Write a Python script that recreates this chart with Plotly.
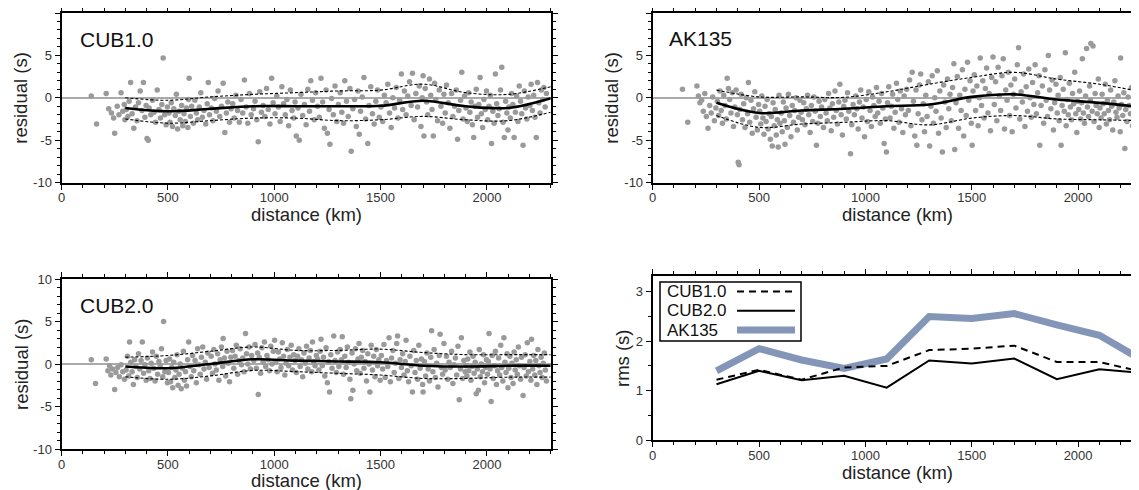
import plotly.graph_objects as go

# ---------------- data ----------------
bins = [300, 500, 700, 900, 1100, 1300, 1500, 1700, 1900, 2100, 2300]

cub1_mean = [-1.2, -1.6, -1.3, -1.0, -1.0, -1.0, -0.95, -0.35, -1.0, -1.2, -0.05]
cub1_upper = [0.0, -0.3, 0.1, 0.4, 0.6, 0.8, 0.9, 1.6, 0.6, 0.4, 1.3]
cub1_lower = [-2.5, -3.0, -2.7, -2.4, -2.4, -2.7, -2.6, -2.2, -2.6, -2.7, -1.7]

ak_mean = [-0.6, -1.8, -1.5, -1.3, -1.0, -0.8, 0.1, 0.4, -0.2, -0.6, -1.1]
ak_upper = [0.9, 0.1, 0.1, 0.05, 0.7, 1.6, 2.4, 3.0, 2.2, 1.6, 0.7]
ak_lower = [-2.1, -3.5, -3.1, -2.9, -2.7, -3.2, -2.4, -2.1, -2.5, -2.6, -2.7]

cub2_mean = [-0.3, -0.5, 0.0, 0.55, 0.4, 0.3, 0.2, -0.2, -0.3, -0.2, -0.2]
cub2_upper = [0.8, 1.0, 1.5, 2.0, 1.6, 1.6, 1.75, 1.35, 1.1, 1.1, 1.1]
cub2_lower = [-1.5, -1.8, -1.4, -0.75, -0.9, -1.1, -1.3, -1.7, -1.7, -1.55, -1.55]

rms_cub1 = [1.22, 1.42, 1.22, 1.47, 1.50, 1.82, 1.85, 1.91, 1.58, 1.58, 1.38]
rms_cub2 = [1.13, 1.40, 1.21, 1.30, 1.06, 1.61, 1.55, 1.65, 1.23, 1.43, 1.36]
rms_ak135 = [1.40, 1.85, 1.62, 1.45, 1.64, 2.50, 2.46, 2.56, 2.33, 2.12, 1.62]

cub1_points = [
    (140,0.2),(165,-3.1),(210,0.5),(222,-1.3),(235,-1.8),(245,-2.4),(250,-4.2),(262,-1.0),(270,-2.0),(280,0.6),(288,-1.6),(295,-0.8),(298,-2.6),
    (305,-1.4),(312,-2.2),(318,-0.4),(325,1.8),(332,-1.9),(340,-3.6),(348,-1.1),(355,-2.7),(362,-0.6),(370,0.8),(378,-1.5),(385,1.8),(392,-2.3),(398,-0.9),
    (402,-4.8),(408,-5.0),(412,-1.2),(420,-2.0),(428,-0.3),(435,-1.7),(442,-2.9),(450,0.9),(458,-1.4),(465,-2.4),(472,-0.8),(478,4.7),(485,-2.0),(492,-3.2),(498,-1.1),
    (505,-1.8),(510,-2.9),(516,-0.6),(522,-3.4),(528,-1.3),(535,-2.1),(540,0.4),(546,-3.7),(552,-1.6),(558,-2.6),(565,-0.9),(570,-3.3),(576,-1.9),(582,-2.8),(588,-1.2),(594,-3.5),(600,2.3),(597,-0.2),
    (606,-2.2),(612,-1.0),(620,-3.0),(627,-0.3),(634,-1.8),(640,-2.6),(648,-1.1),(655,0.6),(662,-2.3),(670,-1.5),(678,-3.1),(685,-0.7),(690,1.8),(696,-2.0),
    (704,-1.2),(712,-2.7),(720,-0.1),(728,-1.6),(736,0.8),(744,-2.2),(752,-1.0),(760,1.7),(768,-4.1),(775,-1.8),(782,-0.5),(790,-2.9),(797,-1.3),
    (805,-0.7),(812,-2.4),(820,0.3),(828,-1.5),(836,-2.9),(844,-0.2),(852,-1.8),(860,2.1),(868,-1.1),(876,-3.0),(884,0.5),(892,-2.0),
    (903,-1.3),(910,-0.4),(918,-2.6),(925,-5.2),(932,0.7),(940,-1.7),(948,-0.9),(956,-2.2),(964,1.1),(972,-1.4),(980,-3.1),(988,2.3),(995,-0.6),
    (1004,-1.9),(1012,0.2),(1020,-1.1),(1028,-2.8),(1036,1.3),(1044,-0.7),(1052,-2.0),(1060,-0.2),(1068,-3.3),(1076,0.9),(1084,-1.5),(1092,-2.4),(1098,-0.5),
    (1104,-4.5),(1112,-1.2),(1118,-5.0),(1126,0.4),(1134,-2.1),(1142,-0.8),(1150,-3.2),(1158,1.0),(1166,-1.6),(1172,2.0),(1180,-0.3),(1188,-2.6),(1195,0.6),
    (1204,-1.0),(1212,-2.3),(1220,2.3),(1228,-0.5),(1236,-3.6),(1244,0.9),(1250,-4.2),(1258,-1.4),(1262,-5.5),(1270,-0.1),(1278,-2.0),(1286,1.4),(1294,-2.8),
    (1302,-0.8),(1310,0.6),(1318,-1.7),(1326,-3.0),(1332,2.0),(1340,-0.4),(1348,-2.2),(1356,1.1),(1362,-6.3),(1370,-1.3),(1378,-0.2),(1386,-3.4),(1394,0.8),(1400,-4.3),
    (1406,-1.6),(1414,0.1),(1422,2.4),(1430,-2.5),(1440,-5.4),(1446,-0.9),(1454,1.3),(1462,-1.9),(1470,-3.1),(1478,-0.4),(1486,0.9),(1494,-2.3),
    (1502,-1.1),(1510,-2.8),(1518,0.3),(1526,-0.6),(1534,1.6),(1542,-1.8),(1550,-3.5),(1558,0.0),(1566,-1.2),(1574,1.2),(1582,-2.4),(1590,-0.3),(1598,2.8),
    (1604,-1.4),(1612,0.8),(1620,-2.0),(1628,0.2),(1636,1.9),(1644,-0.9),(1650,2.9),(1658,-2.6),(1666,0.5),(1674,-1.1),(1682,1.4),(1690,-3.4),(1696,0.0),
    (1700,2.6),(1704,-4.5),(1710,1.1),(1716,-0.5),(1722,-2.0),(1730,2.2),(1736,0.3),(1742,-1.4),(1748,-4.5),(1754,1.7),(1760,-0.2),(1768,-2.7),(1776,0.9),(1784,-1.0),(1792,-3.0),(1798,0.4),
    (1804,-1.8),(1810,1.5),(1818,-0.6),(1826,-3.6),(1834,0.5),(1840,-2.2),(1848,-1.0),(1856,0.9),(1862,-4.9),(1868,-1.5),(1876,-0.3),(1882,3.0),(1888,-2.5),(1895,0.2),
    (1902,-1.2),(1908,-2.8),(1914,0.6),(1920,-1.7),(1926,-0.5),(1932,-3.2),(1938,-4.7),(1944,-1.0),(1950,1.0),(1956,-2.3),(1962,-0.8),(1968,2.4),(1974,-1.9),(1980,-3.5),(1986,-0.2),(1992,-1.4),(1998,0.8),
    (2004,-2.6),(2010,-1.0),(2016,0.3),(2022,-5.4),(2028,-1.6),(2034,-3.0),(2040,2.8),(2046,-0.7),(2052,-2.1),(2058,-1.3),(2064,0.9),(2070,3.6),(2076,-2.9),(2082,-4.7),(2088,-0.4),(2094,-1.8),(2099,-3.8),
    (2104,-1.1),(2110,-2.4),(2116,0.5),(2122,-0.8),(2128,-4.7),(2134,-1.7),(2140,0.2),(2146,-2.8),(2152,1.4),(2158,-0.4),(2164,-1.9),(2170,-5.6),(2176,0.8),(2182,-1.2),(2188,-2.5),(2194,0.1),
    (2202,-0.9),(2208,1.6),(2214,-1.5),(2220,0.3),(2226,-2.3),(2232,-4.7),(2238,1.8),(2244,-0.6),(2250,-1.8),(2256,0.9),(2262,-0.2),(2268,1.2),(2274,-1.1),(2280,0.5),
]

ak135_points = [
    (140,1.0),(165,-2.9),(208,1.4),(215,0.2),(222,-0.6),(230,-0.3),(238,-1.6),(245,0.5),(252,-2.2),(260,-3.6),(268,-0.9),(275,-1.8),(282,0.1),(290,-2.7),(297,-1.2),
    (304,-0.4),(310,-2.1),(316,0.8),(322,-1.5),(328,-3.0),(334,0.3),(340,-0.9),(346,-2.5),(350,2.3),(356,1.1),(362,-0.2),(368,-1.8),(374,0.6),(380,-3.4),(386,-1.1),(392,0.9),(398,-2.0),
    (402,-7.6),(406,-7.9),(410,-1.4),(416,0.4),(422,-2.6),(428,-0.7),(434,-3.5),(440,0.0),(446,-1.9),(450,1.8),(456,-2.9),(462,-0.3),(468,-4.2),(474,-1.3),(480,0.7),(486,-2.3),(492,-3.8),(498,-0.8),
    (503,-1.6),(508,-3.1),(513,0.2),(518,-2.4),(523,-4.3),(528,-1.0),(533,-2.8),(538,-0.2),(543,-3.7),(548,-1.9),(553,-4.9),(558,-2.2),(562,-5.7),(566,-0.6),(571,-3.3),(576,-1.4),(581,-4.4),(586,-2.6),(590,-5.8),(594,0.3),(598,-3.0),
    (604,-1.8),(609,-4.0),(614,-0.5),(619,-2.7),(622,-5.5),(627,-1.2),(633,-3.5),(638,0.4),(644,-2.1),(650,-4.6),(656,-0.9),(662,-2.9),(668,-1.5),(674,0.0),(680,-3.8),(686,-2.3),(692,-0.3),(698,-1.7),
    (704,-2.6),(710,-0.6),(716,-3.2),(722,-1.3),(728,0.3),(734,-2.0),(740,-4.1),(746,-0.9),(752,-2.8),(758,0.1),(764,-1.6),(770,-5.6),(776,-3.0),(782,-0.4),(788,-2.2),(794,-1.1),
    (803,-3.5),(809,-0.2),(815,-1.8),(821,-2.7),(827,0.5),(833,-1.2),(839,-3.9),(845,-0.7),(851,-2.3),(857,0.8),(863,-1.5),(869,-3.1),(875,-0.5),(880,1.6),(886,-2.0),(892,-4.4),(898,-1.0),
    (904,-0.3),(910,-2.5),(916,0.6),(922,-1.6),(930,-6.6),(936,-3.2),(942,-0.8),(948,-2.0),(954,0.2),(960,-1.3),(966,-3.7),(972,-0.5),(978,0.9),(984,-2.4),(990,-1.1),(996,-4.6),
    (1004,-0.2),(1010,-2.8),(1016,0.7),(1022,-1.5),(1028,-3.4),(1034,0.1),(1040,-0.9),(1046,-2.2),(1052,1.2),(1058,-1.8),(1064,-0.4),(1070,-3.0),(1076,0.5),(1082,-1.2),(1088,-5.4),(1094,-2.5),(1099,-6.4),
    (1104,-0.6),(1110,1.3),(1116,-2.4),(1122,-1.0),(1128,0.4),(1134,-3.6),(1140,-1.7),(1146,1.7),(1152,-0.2),(1158,-2.9),(1164,0.8),(1170,-1.3),(1176,-4.1),(1182,0.2),(1188,-2.0),(1194,1.0),
    (1202,-1.5),(1208,2.1),(1214,-3.3),(1220,3.0),(1226,-0.4),(1232,-4.5),(1238,0.9),(1242,-5.6),(1248,-1.9),(1254,1.5),(1260,2.8),(1266,-2.6),(1272,-0.7),(1278,-4.0),(1284,0.3),(1290,-2.2),(1296,1.9),
    (1302,-5.7),(1308,-1.0),(1314,2.6),(1320,-3.0),(1326,0.0),(1332,-1.6),(1338,3.2),(1344,-4.2),(1350,0.8),(1356,-2.4),(1362,-6.4),(1368,1.5),(1374,-0.5),(1380,-3.5),(1386,2.2),(1392,-1.3),(1398,0.4),
    (1404,-2.7),(1410,1.2),(1416,4.0),(1420,-6.1),(1426,-0.6),(1432,2.5),(1438,-3.6),(1444,0.3),(1450,-1.5),(1456,3.3),(1462,-4.5),(1468,1.0),(1474,-2.1),(1480,4.2),(1486,-0.3),(1492,2.0),(1498,-3.0),
    (1502,-5.6),(1506,0.8),(1512,2.7),(1518,-1.5),(1524,1.4),(1530,-3.3),(1536,0.0),(1540,4.7),(1546,-0.9),(1552,2.0),(1558,-2.4),(1564,1.1),(1570,3.5),(1576,-1.8),(1582,0.5),(1588,-3.9),(1594,2.4),(1600,4.8),
    (1606,-0.8),(1612,1.9),(1618,-2.7),(1624,3.6),(1630,0.2),(1636,-1.5),(1642,2.6),(1648,4.6),(1654,-3.7),(1660,0.9),(1666,-0.3),(1672,3.0),(1678,-2.1),(1684,1.5),(1690,-4.0),(1696,0.4),
    (1702,2.2),(1708,-1.2),(1714,3.9),(1720,5.9),(1726,-2.5),(1732,0.7),(1738,-0.5),(1744,2.8),(1750,-3.4),(1756,1.3),(1762,-1.6),(1768,3.4),(1774,0.0),(1780,-2.3),(1786,1.8),(1792,-0.8),(1798,3.9),
    (1804,-1.9),(1810,0.6),(1816,2.6),(1820,-5.6),(1826,-0.9),(1832,1.4),(1838,-3.0),(1844,3.3),(1850,-0.3),(1856,-2.2),(1860,5.0),(1866,0.9),(1872,-1.3),(1878,2.1),(1884,-3.8),(1890,-0.6),(1896,1.6),
    (1902,-1.8),(1906,0.3),(1911,-2.7),(1916,2.4),(1920,-5.6),(1925,-0.9),(1930,1.0),(1935,-1.6),(1940,5.3),(1944,-3.3),(1949,-0.2),(1954,-2.0),(1959,1.7),(1964,-1.1),(1969,-2.6),(1974,0.5),(1979,-0.7),(1984,3.0),(1989,-1.9),(1994,-4.1),(1998,-0.4),
    (2003,-1.4),(2007,0.8),(2012,-2.5),(2017,-0.6),(2020,4.6),(2025,-1.8),(2030,-3.0),(2035,0.2),(2040,5.8),(2044,-1.1),(2049,-2.2),(2054,1.4),(2058,-0.3),(2060,6.4),(2066,-1.6),(2070,6.1),(2075,-2.8),(2080,0.5),(2085,-0.9),(2090,-1.9),(2095,2.2),(2099,-3.5),
    (2103,-1.2),(2108,-2.4),(2113,0.4),(2118,-0.7),(2123,-1.9),(2128,1.6),(2133,-3.1),(2138,-0.3),(2143,-1.5),(2148,-2.6),(2153,0.9),(2158,-1.0),(2163,-3.8),(2168,-0.5),(2173,2.0),(2178,-1.7),(2183,-2.3),(2188,0.2),(2193,-1.2),(2198,-4.0),
    (2200,4.7),(2204,-0.8),(2210,-2.1),(2215,0.6),(2220,-6.0),(2224,-1.4),(2230,-2.8),(2235,0.1),(2240,-0.9),(2246,-1.9),(2251,1.2),(2256,-3.3),(2261,-1.1),(2266,-0.3),(2270,2.1),(2276,-2.4),(2280,-5.4),(2285,-1.6),
]

cub2_points = [
    (140,0.5),(160,-2.3),(210,0.6),(218,-0.8),(226,-0.2),(232,-1.3),(240,-0.6),(250,-3.0),(256,-1.0),(264,-0.4),(272,-1.5),(280,-0.1),(288,-0.9),(296,-1.8),
    (304,-0.7),(310,0.9),(316,-1.4),(320,2.6),(326,0.2),(332,-0.9),(338,-2.4),(344,0.5),(350,-0.3),(356,-1.6),(362,1.2),(368,-0.6),(374,0.4),(380,2.6),(386,-1.1),(392,-0.1),(398,-1.9),
    (404,0.7),(410,-0.8),(416,-1.7),(422,0.1),(428,1.4),(434,-0.5),(440,-2.0),(446,0.9),(452,-1.2),(458,0.3),(464,-0.2),(470,1.8),(476,-1.5),(480,5.0),(486,-0.9),(492,0.4),(498,-2.2),
    (503,-1.0),(508,0.6),(513,-2.1),(518,-0.4),(523,-2.8),(528,0.2),(533,-1.6),(538,-0.7),(543,1.1),(548,-2.5),(553,-1.2),(558,0.0),(563,-2.9),(568,-0.5),(573,1.5),(578,-1.9),(583,-0.9),(588,-2.6),(593,0.5),(598,2.6),
    (604,-0.3),(610,-1.5),(616,1.0),(622,-0.8),(628,0.4),(634,-2.2),(640,1.8),(646,-0.1),(652,-1.2),(658,0.8),(664,2.0),(670,-0.6),(676,0.2),(682,-1.8),(688,1.3),(694,-0.4),
    (704,0.9),(710,-1.1),(716,1.7),(722,0.0),(728,-0.7),(734,1.2),(740,-1.9),(746,0.5),(752,2.0),(758,-0.3),(760,3.0),(766,0.7),(772,-1.4),(778,1.5),(784,0.1),(790,-2.1),(796,0.8),
    (804,1.6),(810,-0.5),(816,0.9),(822,2.2),(828,-1.2),(834,0.4),(840,1.8),(846,-0.1),(852,0.7),(858,-0.9),(865,3.6),(870,1.2),(876,0.0),(882,2.0),(888,-0.6),(894,1.0),
    (904,0.4),(910,2.3),(916,-0.5),(922,1.3),(925,-3.6),(930,0.8),(936,-1.1),(942,1.9),(948,0.2),(954,2.6),(960,-0.3),(966,1.0),(972,0.5),(978,-0.8),(984,2.1),(990,0.0),(996,1.5),
    (1002,2.8),(1008,0.3),(1014,-0.9),(1020,1.4),(1026,0.6),(1032,-0.4),(1038,2.5),(1044,0.9),(1050,-1.3),(1056,0.1),(1062,1.7),(1068,-0.2),(1074,0.8),(1080,2.2),(1086,-0.7),(1092,1.1),(1098,0.4),
    (1104,-1.0),(1110,0.9),(1116,1.8),(1122,-0.3),(1128,0.5),(1134,-1.5),(1140,1.3),(1146,0.1),(1152,2.1),(1158,-0.6),(1164,0.7),(1170,1.6),(1176,-0.9),(1180,2.6),(1186,0.3),(1192,-0.2),(1198,1.0),
    (1204,0.6),(1210,-0.7),(1216,1.5),(1220,2.9),(1226,-0.2),(1232,0.8),(1238,-1.4),(1244,1.9),(1250,-2.2),(1256,0.3),(1260,-3.3),(1266,1.1),(1272,-0.5),(1280,3.3),(1286,0.4),(1292,-1.0),(1298,1.4),
    (1304,-0.3),(1310,1.7),(1316,0.5),(1320,3.2),(1326,-1.2),(1332,0.9),(1338,-0.4),(1344,2.0),(1350,0.2),(1356,-1.8),(1360,-4.1),(1366,1.3),(1370,-3.1),(1376,0.0),(1382,1.8),(1388,-0.8),(1394,0.6),(1399,2.4),
    (1404,-1.1),(1410,0.8),(1416,1.6),(1422,-0.5),(1428,0.3),(1434,-2.0),(1440,1.2),(1446,0.0),(1450,-3.3),(1456,2.2),(1462,-0.7),(1468,0.9),(1474,-1.5),(1480,1.7),(1486,-0.2),(1492,0.5),(1498,-1.9),
    (1504,1.0),(1510,-0.6),(1516,2.3),(1522,-1.6),(1528,0.4),(1534,-0.3),(1540,3.1),(1546,-2.1),(1552,0.7),(1558,1.6),(1564,-1.0),(1570,0.1),(1576,2.4),(1580,3.3),(1586,-1.7),(1592,0.5),(1598,-0.4),
    (1604,1.2),(1610,-1.3),(1616,0.3),(1620,2.8),(1626,-0.8),(1632,-2.1),(1638,0.9),(1644,-0.2),(1650,-3.3),(1656,1.6),(1662,-1.0),(1668,0.4),(1674,-1.8),(1680,2.2),(1686,-0.5),(1692,0.6),(1698,-2.4),
    (1700,-3.3),(1706,0.3),(1712,-1.4),(1718,1.3),(1724,-0.6),(1730,-2.0),(1736,0.8),(1740,3.9),(1746,-0.9),(1752,1.7),(1758,-1.6),(1764,0.1),(1770,-2.7),(1776,1.0),(1780,3.5),(1786,-0.4),(1792,-1.2),(1798,2.4),
    (1804,-0.7),(1810,0.9),(1816,-1.8),(1822,0.2),(1828,-0.4),(1834,1.5),(1840,-2.3),(1846,-0.1),(1852,0.7),(1858,-1.3),(1864,2.1),(1870,-4.2),(1876,-0.6),(1880,3.1),(1886,-1.7),(1892,0.4),(1898,-0.9),
    (1902,-0.2),(1906,-1.4),(1910,0.6),(1915,-0.8),(1920,1.4),(1925,-1.9),(1930,-0.3),(1935,0.9),(1940,-1.1),(1945,0.2),(1950,-3.5),(1955,-0.6),(1960,-3.1),(1964,1.7),(1969,-1.5),(1974,0.0),(1979,-0.9),(1984,1.1),(1989,-2.2),(1994,-0.4),(1998,0.5),
    (2003,-1.2),(2007,0.3),(2010,3.6),(2015,-0.6),(2020,-4.4),(2025,1.0),(2030,-1.7),(2035,-0.2),(2040,1.5),(2045,-2.4),(2050,-0.8),(2055,0.7),(2060,-1.3),(2065,2.2),(2070,-0.4),(2075,-2.0),(2080,3.1),(2085,0.2),(2090,-1.0),(2095,1.2),(2099,-2.8),
    (2103,-0.5),(2108,0.9),(2113,-1.6),(2118,0.1),(2123,-2.3),(2128,1.4),(2133,-0.7),(2138,0.5),(2143,-1.2),(2148,2.0),(2153,-0.2),(2158,-1.8),(2163,0.8),(2170,-3.7),(2175,-0.4),(2180,1.1),(2185,-1.4),(2190,2.5),(2195,-0.9),
    (2202,0.3),(2207,-1.9),(2210,2.9),(2215,-0.6),(2220,1.0),(2225,-1.3),(2230,0.4),(2235,-2.4),(2240,1.7),(2245,-0.2),(2250,-1.0),(2255,0.8),(2260,-1.6),(2265,0.1),(2270,1.3),(2275,-0.7),(2280,-2.0),
]

x_ticks = [0, 500, 1000, 1500, 2000]
res_ticks = [-10, -5, 0, 5, 10]
res_ticktext = ["-10", "-5", "0", "5", "10"]
rms_ticks = [0, 1, 2, 3]
panel_names = ["CUB1.0", "AK135", "CUB2.0"]
legend_names = ["CUB1.0", "CUB2.0", "AK135"]

# ---------------- layout geometry (pixels of the 1139x490 view) ----------------
VIEW_W, VIEW_H = 1139, 490
OFF = 8  # page body margin that offsets the figure inside the view
W, H = VIEW_W - OFF, VIEW_H - OFF
FONT = "Liberation Sans, Arial, Helvetica, sans-serif"
PT_COLOR = "#9a9a9a"
AK_COLOR = "#8496b8"


def px(x):
    return (x - OFF) / W


def py(y):
    return 1 - (y - OFF) / H


left_px = (61.5, 550.7)
right_px = (652.7, 1139.0)
x_full = 2300 * (right_px[1] - right_px[0]) / (left_px[1] - left_px[0])

fig = go.Figure()


def split(points):
    return [p[0] for p in points], [p[1] for p in points]


def add_residual_panel(n, points, mean, upper, lower):
    xa = "x" if n == 1 else f"x{n}"
    ya = "y" if n == 1 else f"y{n}"
    xs, ys = split(points)
    fig.add_trace(go.Scatter(x=xs, y=ys, mode="markers", xaxis=xa, yaxis=ya,
                             marker=dict(size=5.5, color=PT_COLOR, line=dict(width=0)),
                             hoverinfo="skip"))
    for vals in (upper, lower):
        fig.add_trace(go.Scatter(x=bins, y=vals, mode="lines", xaxis=xa, yaxis=ya,
                                 line=dict(color="black", width=1.1, dash="3px,2px", shape="spline",
                                           smoothing=1.0)))
    fig.add_trace(go.Scatter(x=bins, y=mean, mode="lines", xaxis=xa, yaxis=ya,
                             line=dict(color="black", width=2.6, shape="spline", smoothing=1.0)))


add_residual_panel(1, cub1_points, cub1_mean, cub1_upper, cub1_lower)
add_residual_panel(2, ak135_points, ak_mean, ak_upper, ak_lower)
add_residual_panel(3, cub2_points, cub2_mean, cub2_upper, cub2_lower)

# rms panel
fig.add_trace(go.Scatter(x=bins, y=rms_ak135, mode="lines", xaxis="x4", yaxis="y4",
                         line=dict(color=AK_COLOR, width=7)))
fig.add_trace(go.Scatter(x=bins, y=rms_cub1, mode="lines", xaxis="x4", yaxis="y4",
                         line=dict(color="black", width=2, dash="7px,5px")))
fig.add_trace(go.Scatter(x=bins, y=rms_cub2, mode="lines", xaxis="x4", yaxis="y4",
                         line=dict(color="black", width=2)))

tickfont = dict(family=FONT, size=13, color="#333333")


def xaxis_cfg(dom, rng, anchor):
    return dict(domain=dom, range=rng, anchor=anchor, tickvals=x_ticks, ticks="outside",
                ticklen=5, tickwidth=1.3, tickcolor="black", showline=True, linewidth=2,
                linecolor="black", mirror="ticks", showgrid=False, zeroline=False,
                tickfont=tickfont, fixedrange=True, automargin=False, ticklabelstandoff=-3,
                minor=dict(dtick=100, tick0=0, ticks="outside", ticklen=3, tickwidth=1,
                           tickcolor="black", showgrid=False))


def yaxis_cfg(dom, anchor, mirror, rms=False):
    d = dict(domain=dom, anchor=anchor, ticks="outside", ticklen=5, tickwidth=1.3,
             tickcolor="black", showline=True, linewidth=2, linecolor="black",
             mirror=mirror, showgrid=False, tickfont=tickfont, fixedrange=True,
             automargin=False)
    if rms:
        d.update(range=[0, 3.32], tickvals=rms_ticks, zeroline=False,
                 minor=dict(dtick=0.5, tick0=0, ticks="outside", ticklen=3, tickwidth=1,
                            tickcolor="black", showgrid=False))
    else:
        d.update(range=[-10, 10], tickvals=res_ticks, ticktext=res_ticktext, zeroline=True,
                 zerolinecolor="#aaaaaa", zerolinewidth=1.5,
                 minor=dict(dtick=1, tick0=0, ticks="outside", ticklen=3, tickwidth=1,
                            tickcolor="black", showgrid=False))
    return d


top_y = [py(182.5), py(13)]
bl_y = [py(449), py(279)]
br_y = [py(440), py(276)]
lx = [px(left_px[0]), px(left_px[1])]
rx = [px(right_px[0]), 1.0]

fig.update_layout(
    template="none",
    width=W, height=H, margin=dict(l=0, r=0, t=0, b=0, pad=0, autoexpand=False),
    paper_bgcolor="white", plot_bgcolor="white", showlegend=False,
    font=dict(family=FONT, color="#222222"),
    xaxis=xaxis_cfg(lx, [0, 2300], "y"),
    yaxis=yaxis_cfg(top_y, "x", "ticks"),
    xaxis2=xaxis_cfg(rx, [0, x_full], "y2"),
    yaxis2=yaxis_cfg(top_y, "x2", False),
    xaxis3=xaxis_cfg(lx, [0, 2300], "y3"),
    yaxis3=yaxis_cfg(bl_y, "x3", "ticks"),
    xaxis4=xaxis_cfg(rx, [0, x_full], "y4"),
    yaxis4=yaxis_cfg(br_y, "x4", False, rms=True),
)

ann = []
title_font = dict(family=FONT, size=18.5, color="#222222")
label_font = dict(family=FONT, size=21, color="#111111")

# panel labels
for name, (x0, yc) in zip(panel_names, [(78, 40), (667, 38), (78, 305)]):
    ann.append(dict(text=name, x=px(x0), y=py(yc), xref="paper", yref="paper",
                    xanchor="left", yanchor="middle", showarrow=False, font=label_font))

# x titles
for xc, yc in [(306, 214), (897, 214), (306, 480.5), (897, 472)]:
    ann.append(dict(text="distance (km)", x=px(xc), y=py(yc), xref="paper", yref="paper",
                    xanchor="center", yanchor="middle", showarrow=False, font=title_font))
# y titles
for txt, xc, yc in [("residual (s)", 21, 97.7), ("residual (s)", 612, 97.7),
                    ("residual (s)", 21, 364), ("rms (s)", 622, 358)]:
    ann.append(dict(text=txt, x=px(xc), y=py(yc), xref="paper", yref="paper", textangle=-90,
                    xanchor="center", yanchor="middle", showarrow=False, font=title_font))

# legend box (drawn by hand: labels left, line samples right)
shapes = [dict(type="rect", xref="paper", yref="paper", x0=px(660), x1=px(801), y0=py(341),
               y1=py(282), line=dict(color="black", width=1.5), fillcolor="white", layer="above")]
leg_styles = [dict(color="black", width=2, dash="7px,5px"), dict(color="black", width=2),
              dict(color=AK_COLOR, width=7)]
for i, (name, st) in enumerate(zip(legend_names, leg_styles)):
    yc = 291.5 + i * 19.3
    ann.append(dict(text=name, x=px(665), y=py(yc), xref="paper", yref="paper",
                    xanchor="left", yanchor="middle", showarrow=False,
                    font=dict(family=FONT, size=17, color="#111111")))
    shapes.append(dict(type="line", xref="paper", yref="paper", x0=px(737), x1=px(795),
                       y0=py(yc), y1=py(yc), line=st, layer="above"))

fig.update_layout(annotations=ann, shapes=shapes)

fig.write_html("out.html")
